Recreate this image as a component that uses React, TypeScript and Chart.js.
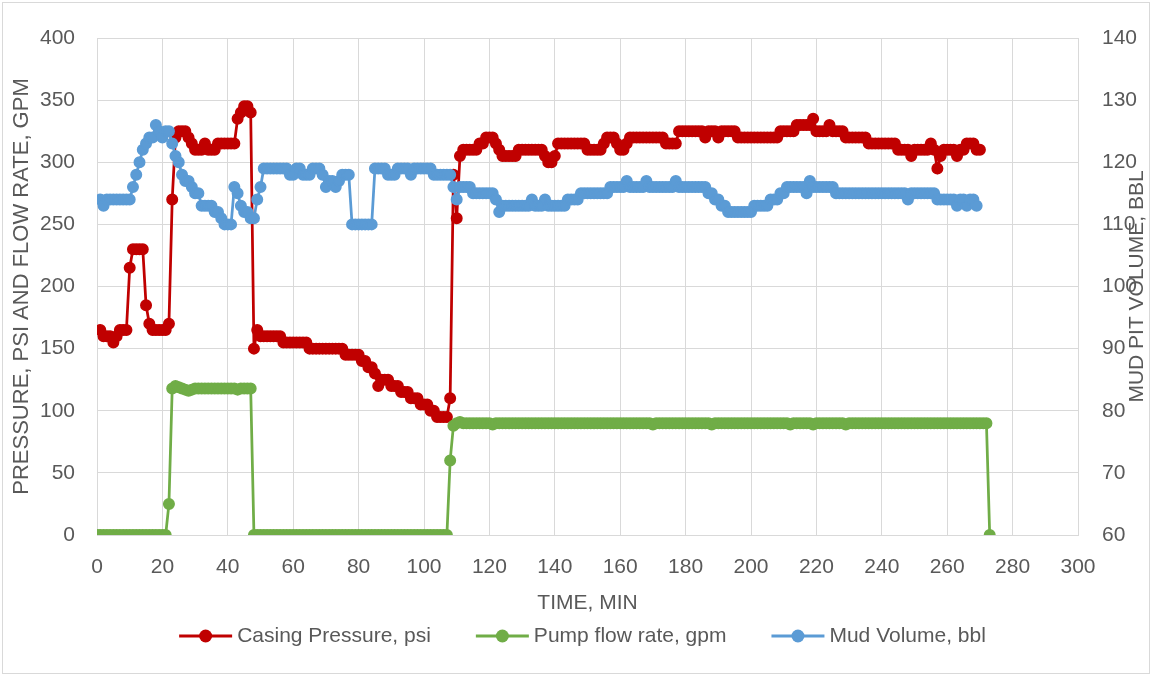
import React, { useEffect, useRef } from "react";
import { Chart, registerables } from "chart.js";

Chart.register(...registerables);

// ---- data (one sample per minute) ----
const pumpStartMin = 0;
const casingStartMin = 1;
const mudStartMin = 1;

const seriesNames = ["Casing Pressure, psi", "Pump flow rate, gpm", "Mud Volume, bbl"];
const leftAxisTitle = "PRESSURE, PSI AND FLOW RATE, GPM";
const rightAxisTitle = "MUD PIT VOLUME, BBL";
const xAxisTitle = "TIME, MIN";

// Pump flow rate, gpm (t = 0 .. 273)
const pumpFlowGpm = [
  0, 0, 0, 0, 0, 0, 0, 0, 0, 0,
  0, 0, 0, 0, 0, 0, 0, 0, 0, 0,
  0, 0, 25, 118, 120, 119, 118, 117, 116, 117,
  118, 118, 118, 118, 118, 118, 118, 118, 118, 118,
  118, 118, 118, 117, 118, 118, 118, 118, 0, 0,
  0, 0, 0, 0, 0, 0, 0, 0, 0, 0,
  0, 0, 0, 0, 0, 0, 0, 0, 0, 0,
  0, 0, 0, 0, 0, 0, 0, 0, 0, 0,
  0, 0, 0, 0, 0, 0, 0, 0, 0, 0,
  0, 0, 0, 0, 0, 0, 0, 0, 0, 0,
  0, 0, 0, 0, 0, 0, 0, 0, 60, 88,
  90, 91, 90, 90, 90, 90, 90, 90, 90, 90,
  90, 89, 90, 90, 90, 90, 90, 90, 90, 90,
  90, 90, 90, 90, 90, 90, 90, 90, 90, 90,
  90, 90, 90, 90, 90, 90, 90, 90, 90, 90,
  90, 90, 90, 90, 90, 90, 90, 90, 90, 90,
  90, 90, 90, 90, 90, 90, 90, 90, 90, 90,
  89, 90, 90, 90, 90, 90, 90, 90, 90, 90,
  90, 90, 90, 90, 90, 90, 90, 90, 89, 90,
  90, 90, 90, 90, 90, 90, 90, 90, 90, 90,
  90, 90, 90, 90, 90, 90, 90, 90, 90, 90,
  90, 90, 89, 90, 90, 90, 90, 90, 90, 89,
  90, 90, 90, 90, 90, 90, 90, 90, 90, 89,
  90, 90, 90, 90, 90, 90, 90, 90, 90, 90,
  90, 90, 90, 90, 90, 90, 90, 90, 90, 90,
  90, 90, 90, 90, 90, 90, 90, 90, 90, 90,
  90, 90, 90, 90, 90, 90, 90, 90, 90, 90,
  90, 90, 90, 0,
];

// Casing pressure, psi (t = 1 .. 270)
const casingPressurePsi = [
  165, 160, 160, 160, 155, 160, 165, 165, 165, 215,
  230, 230, 230, 230, 185, 170, 165, 165, 165, 165,
  165, 170, 270, 320, 325, 325, 325, 320, 315, 310,
  310, 310, 315, 310, 310, 310, 315, 315, 315, 315,
  315, 315, 335, 340, 345, 345, 340, 150, 165, 160,
  160, 160, 160, 160, 160, 160, 155, 155, 155, 155,
  155, 155, 155, 155, 150, 150, 150, 150, 150, 150,
  150, 150, 150, 150, 150, 145, 145, 145, 145, 145,
  140, 140, 135, 135, 130, 120, 125, 125, 125, 120,
  120, 120, 115, 115, 115, 110, 110, 110, 105, 105,
  105, 100, 100, 95, 95, 95, 95, 110, 290, 255,
  305, 310, 310, 310, 310, 310, 315, 315, 320, 320,
  320, 315, 310, 305, 305, 305, 305, 305, 310, 310,
  310, 310, 310, 310, 310, 310, 305, 300, 300, 305,
  315, 315, 315, 315, 315, 315, 315, 315, 315, 310,
  310, 310, 310, 310, 315, 320, 320, 320, 315, 310,
  310, 315, 320, 320, 320, 320, 320, 320, 320, 320,
  320, 320, 320, 315, 315, 315, 315, 325, 325, 325,
  325, 325, 325, 325, 325, 320, 325, 325, 325, 320,
  325, 325, 325, 325, 325, 320, 320, 320, 320, 320,
  320, 320, 320, 320, 320, 320, 320, 320, 325, 325,
  325, 325, 325, 330, 330, 330, 330, 330, 335, 325,
  325, 325, 325, 330, 325, 325, 325, 325, 320, 320,
  320, 320, 320, 320, 320, 315, 315, 315, 315, 315,
  315, 315, 315, 315, 310, 310, 310, 310, 305, 310,
  310, 310, 310, 310, 315, 310, 295, 305, 310, 310,
  310, 310, 305, 310, 310, 315, 315, 315, 310, 310,
];

// Mud pit volume, bbl (t = 1 .. 269)
const mudVolumeBbl = [
  114, 113, 114, 114, 114, 114, 114, 114, 114, 114,
  116, 118, 120, 122, 123, 124, 124, 126, 125, 124,
  125, 125, 123, 121, 120, 118, 117, 117, 116, 115,
  115, 113, 113, 113, 113, 112, 112, 111, 110, 110,
  110, 116, 115, 113, 112, 112, 111, 111, 114, 116,
  119, 119, 119, 119, 119, 119, 119, 119, 118, 118,
  119, 119, 118, 118, 118, 119, 119, 119, 118, 116,
  117, 117, 116, 117, 118, 118, 118, 110, 110, 110,
  110, 110, 110, 110, 119, 119, 119, 119, 118, 118,
  118, 119, 119, 119, 119, 118, 119, 119, 119, 119,
  119, 119, 118, 118, 118, 118, 118, 118, 116, 114,
  116, 116, 116, 116, 115, 115, 115, 115, 115, 115,
  115, 114, 112, 113, 113, 113, 113, 113, 113, 113,
  113, 113, 114, 113, 113, 113, 114, 113, 113, 113,
  113, 113, 113, 114, 114, 114, 114, 115, 115, 115,
  115, 115, 115, 115, 115, 115, 116, 116, 116, 116,
  116, 117, 116, 116, 116, 116, 116, 117, 116, 116,
  116, 116, 116, 116, 116, 116, 117, 116, 116, 116,
  116, 116, 116, 116, 116, 116, 115, 115, 114, 114,
  113, 113, 112, 112, 112, 112, 112, 112, 112, 112,
  113, 113, 113, 113, 113, 114, 114, 114, 115, 115,
  116, 116, 116, 116, 116, 116, 115, 117, 116, 116,
  116, 116, 116, 116, 116, 115, 115, 115, 115, 115,
  115, 115, 115, 115, 115, 115, 115, 115, 115, 115,
  115, 115, 115, 115, 115, 115, 115, 114, 115, 115,
  115, 115, 115, 115, 115, 115, 114, 114, 114, 114,
  114, 114, 113, 114, 114, 113, 114, 114, 113,
];

const RED = "#C00000";
const GREEN = "#70AD47";
const BLUE = "#5B9BD5";
const TEXT = "#595959";
const GRID = "#D9D9D9";
const FONT = '"Liberation Sans", Arial, sans-serif';

const toPoints = (start: number, values: number[]) =>
  values.map((y, i) => ({ x: start + i, y }));

const decorPlugin = {
  id: "decor",
  beforeDraw(chart: any) {
    const ctx = chart.ctx;
    ctx.save();
    ctx.fillStyle = "#ffffff";
    ctx.fillRect(0, 0, chart.width, chart.height);
    ctx.strokeStyle = GRID;
    ctx.lineWidth = 1;
    ctx.strokeRect(2.5, 2.5, chart.width - 5, chart.height - 4);
    ctx.restore();
  },
  afterDraw(chart: any) {
    const ctx = chart.ctx;
    const a = chart.chartArea;
    const cy = (a.top + a.bottom) / 2;
    ctx.save();
    ctx.fillStyle = TEXT;
    ctx.textAlign = "center";
    ctx.textBaseline = "middle";
    ctx.font = `22px ${FONT}`;
    ctx.save();
    ctx.translate(22, cy);
    ctx.rotate(-Math.PI / 2);
    ctx.fillText(leftAxisTitle, 0, 0);
    ctx.restore();
    ctx.font = `21px ${FONT}`;
    ctx.save();
    ctx.translate(1137, cy);
    ctx.rotate(-Math.PI / 2);
    ctx.fillText(rightAxisTitle, 0, 0);
    ctx.restore();
    ctx.fillText(xAxisTitle, (a.left + a.right) / 2, 603);

    // legend
    ctx.font = `21px ${FONT}`;
    const colors = [RED, GREEN, BLUE];
    const lineLen = 53;
    const textGap = 5;
    const itemGap = 45;
    const widths = seriesNames.map((n) => lineLen + textGap + ctx.measureText(n).width);
    const total = widths.reduce((s, w) => s + w, 0) + itemGap * (widths.length - 1);
    let x = (a.left + a.right) / 2 - total / 2 - 5;
    const ly = 636;
    seriesNames.forEach((name, i) => {
      ctx.strokeStyle = colors[i];
      ctx.lineWidth = 3;
      ctx.beginPath();
      ctx.moveTo(x, ly);
      ctx.lineTo(x + lineLen, ly);
      ctx.stroke();
      ctx.fillStyle = colors[i];
      ctx.beginPath();
      ctx.arc(x + lineLen / 2, ly, 6.5, 0, Math.PI * 2);
      ctx.fill();
      ctx.fillStyle = TEXT;
      ctx.textAlign = "left";
      ctx.fillText(name, x + lineLen + textGap, ly);
      x += widths[i] + itemGap;
    });
    ctx.restore();
  },
};

export default function App() {
  const ref = useRef<HTMLCanvasElement | null>(null);

  useEffect(() => {
    if (!ref.current) return;
    const common = {
      borderWidth: 2.75,
      pointRadius: 5.25,
      pointBorderWidth: 1.5,
      pointHoverRadius: 5.25,
      tension: 0,
      fill: false,
    };
    const chart = new Chart(ref.current, {
      type: "line",
      data: {
        datasets: [
          {
            ...common,
            label: seriesNames[0],
            data: toPoints(casingStartMin, casingPressurePsi),
            borderColor: RED,
            backgroundColor: RED,
            pointBackgroundColor: RED,
            pointBorderColor: RED,
            yAxisID: "y",
            order: 2,
          },
          {
            ...common,
            label: seriesNames[1],
            data: toPoints(pumpStartMin, pumpFlowGpm),
            borderColor: GREEN,
            backgroundColor: GREEN,
            pointBackgroundColor: GREEN,
            pointBorderColor: GREEN,
            yAxisID: "y",
            order: 1,
          },
          {
            ...common,
            label: seriesNames[2],
            data: toPoints(mudStartMin, mudVolumeBbl),
            borderColor: BLUE,
            backgroundColor: BLUE,
            pointBackgroundColor: BLUE,
            pointBorderColor: BLUE,
            yAxisID: "y2",
            order: 0,
          },
        ],
      },
      options: {
        animation: false,
        responsive: false,
        devicePixelRatio: 1,
        layout: { padding: { top: 38, left: 0, right: 0, bottom: 0 } },
        plugins: {
          legend: { display: false },
          tooltip: { enabled: false },
          title: { display: false },
        },
        scales: {
          x: {
            type: "linear",
            min: 0,
            max: 300,
            ticks: { stepSize: 20, color: TEXT, font: { size: 21, family: FONT }, padding: 20, maxRotation: 0 },
            grid: { color: GRID, lineWidth: 1, drawTicks: false },
            border: { display: true, color: GRID },
            afterFit: (s: any) => { s.height = 140; },
          },
          y: {
            position: "left",
            min: 0,
            max: 400,
            ticks: { stepSize: 50, color: TEXT, font: { size: 21, family: FONT }, padding: 22 },
            grid: { color: GRID, lineWidth: 1, drawTicks: false },
            border: { display: true, color: GRID },
            afterFit: (s: any) => { s.width = 97; },
          },
          y2: {
            position: "right",
            min: 60,
            max: 140,
            ticks: { stepSize: 10, color: TEXT, font: { size: 21, family: FONT }, padding: 24 },
            grid: { display: false, drawTicks: false },
            border: { display: false },
            afterFit: (s: any) => { s.width = 74; },
          },
        },
      },
      plugins: [decorPlugin],
    } as any);
    return () => chart.destroy();
  }, []);

  return (
    <div style={{ position: "absolute", left: 0, top: 0, width: 1152, height: 675 }}>
      <canvas ref={ref} width={1152} height={675} style={{ width: 1152, height: 675, display: "block" }} />
    </div>
  );
}
